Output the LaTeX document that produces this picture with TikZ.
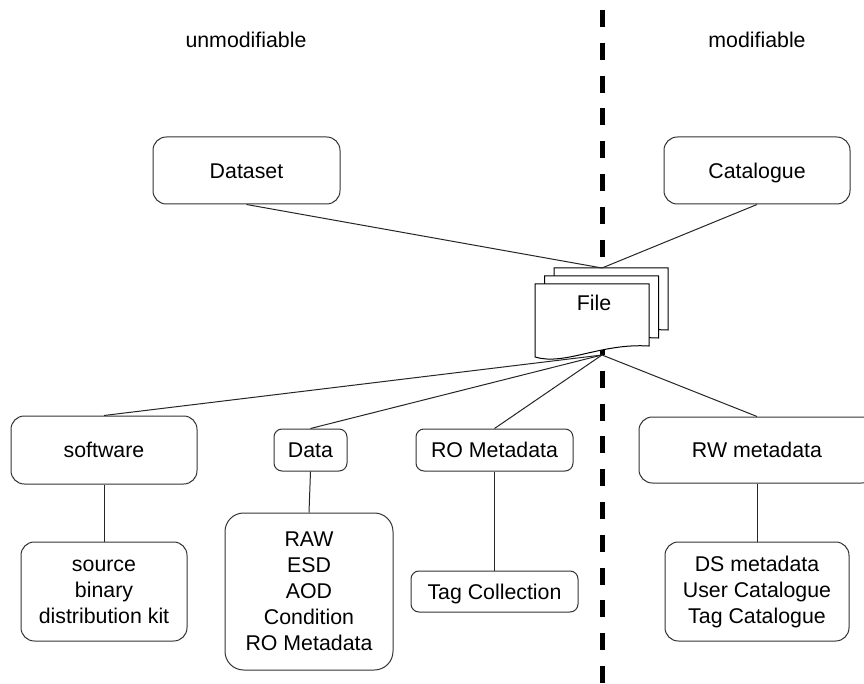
\documentclass[tikz,border=0pt]{standalone}
\usepackage{fontspec}
\setmainfont{Liberation Sans}

\begin{document}
\begin{tikzpicture}[x=0.75pt,y=-0.75pt,
    box/.style={draw=black!80, line width=0.75pt, rounded corners=10pt, inner sep=0pt,
      font=\fontsize{16}{19.5}\selectfont},
    oneline/.style={box, text height=11.5pt, text depth=0pt},
    manyline/.style={box, align=center},
    sidetitle/.style={font=\fontsize{16}{19.5}\selectfont, inner sep=0pt},
    link/.style={draw=black!85, line width=0.75pt},
    page/.style={draw=black, line width=0.75pt, fill=white}]
  \clip (0,0) rectangle (864,684);
  \fill[white] (0,0) rectangle (864,684);

  \node[sidetitle] (unmod) at (246,40) {unmodifiable};
  \node[sidetitle] (mod) at (757,40) {modifiable};

  \draw[line width=3.75pt, dash pattern=on 12.75pt off 11.85pt] (602,10) -- (602,684);

  \node[oneline, minimum width=140.25pt, minimum height=50.25pt] (dataset) at (246.5,170.5) {Dataset};
  \node[oneline, minimum width=139.5pt, minimum height=50.25pt] (catalogue) at (757,170.5) {Catalogue};

  \node[oneline, minimum width=139.5pt, minimum height=51pt] (software) at (104,450) {software};
  \node[oneline, rounded corners=6pt, minimum width=54.75pt, minimum height=31.5pt] (data) at (310.5,450) {Data};
  \node[oneline, rounded corners=6pt, minimum width=117.75pt, minimum height=31.5pt] (romd) at (494.5,450) {RO Metadata};
  \node[oneline, minimum width=177pt, minimum height=49.5pt] (rwmd) at (757,450) {RW metadata};

  \node[manyline, minimum width=124.5pt, minimum height=74.25pt] (source) at (104,591.5) {source\\binary\\distribution kit};
  \node[manyline, rounded corners=14pt, minimum width=126pt, minimum height=117.75pt] (raw) at (309,591.5) {RAW\\ESD\\AOD\\Condition\\RO Metadata};
  \node[oneline, rounded corners=6pt, minimum width=125.25pt, minimum height=30.75pt] (tagcoll) at (494.5,591.5) {Tag Collection};
  \node[manyline, minimum width=138pt, minimum height=74.25pt] (dsmd) at (757,591.5) {DS metadata\\User Catalogue\\Tag Catalogue};

  \foreach \d in {2,1,0}
    \draw[page, shift={(\d*9.5,-\d*8)}] (535,284) -- (649,284) -- (649,346)
      .. controls (600,343) and (565,366) .. (535,357) -- cycle;
  \node[sidetitle] (file) at (594,303) {File};

  \coordinate (filetop) at (602,268);
  \coordinate (filebot) at (602,355);

  \draw[link] (dataset.south) -- (filetop);
  \draw[link] (catalogue.south) -- (filetop);
  \foreach \n in {software,data,romd,rwmd}
    \draw[link] (filebot) -- (\n.north);

  \draw[link] (software.south) -- (source.north);
  \draw[link] (data.south) -- (raw.north);
  \draw[link] (romd.south) -- (tagcoll.north);
  \draw[link] (rwmd.south) -- (dsmd.north);
\end{tikzpicture}
\end{document}
